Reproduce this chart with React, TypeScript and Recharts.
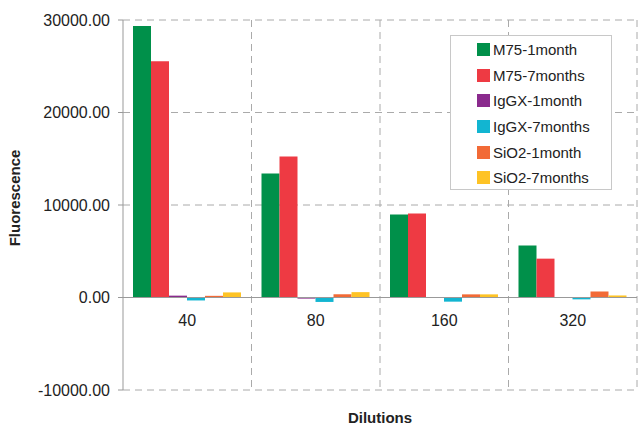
import React from 'react';
import { Bar, BarChart, CartesianGrid, Legend, ReferenceLine, XAxis, YAxis } from 'recharts';

const dilutions = ['40', '80', '160', '320'];
const m75OneMonth = [29350, 13400, 8980, 5620];
const m75SevenMonths = [25550, 15230, 9080, 4200];
const iggxOneMonth = [200, -120, 0, 0];
const iggxSevenMonths = [-320, -480, -450, -200];
const sio2OneMonth = [180, 350, 340, 650];
const sio2SevenMonths = [550, 580, 340, 220];
const yTicks = [-10000, 0, 10000, 20000, 30000];

const SERIES = [
  { key: 'm75_1', name: 'M75-1month', values: m75OneMonth, color: '#00904a' },
  { key: 'm75_7', name: 'M75-7months', values: m75SevenMonths, color: '#ee3a43' },
  { key: 'iggx_1', name: 'IgGX-1month', values: iggxOneMonth, color: '#8a2a8d' },
  { key: 'iggx_7', name: 'IgGX-7months', values: iggxSevenMonths, color: '#12b5d1' },
  { key: 'sio2_1', name: 'SiO2-1month', values: sio2OneMonth, color: '#f26a36' },
  { key: 'sio2_7', name: 'SiO2-7months', values: sio2SevenMonths, color: '#fec325' },
];

const data = dilutions.map((label, i) => {
  const row: Record<string, string | number> = { label };
  SERIES.forEach((s) => {
    row[s.key] = s.values[i];
  });
  return row;
});

const FONT = 'Liberation Sans, Arial, sans-serif';
const GRID = '#aaaaaa';

function CategoryTick(props: any) {
  const { x, y, payload } = props;
  // labels sit just under the zero line, not at the bottom of the plot
  return (
    <text x={x} y={y} dy={-72} textAnchor="middle" fontSize={16} fill="#222" fontFamily={FONT}>
      {payload.value}
    </text>
  );
}

function LegendBox() {
  return (
    <div
      style={{
        border: '1px solid #c8c8c8',
        background: '#fff',
        width: 162,
        height: 155,
        boxSizing: 'border-box',
        padding: '1px 0 0 26px',
        fontFamily: FONT,
        fontSize: 15,
        color: '#222',
      }}
    >
      {SERIES.map((s) => (
        <div key={s.key} style={{ display: 'flex', alignItems: 'center', height: 25.6 }}>
          <span style={{ width: 13, height: 13, background: s.color, marginRight: 3, display: 'inline-block' }} />
          <span>{s.name}</span>
        </div>
      ))}
    </div>
  );
}

export default function App() {
  return (
    <div style={{ position: 'absolute', left: 0, top: 0, background: '#fff' }}>
      <BarChart
        width={638}
        height={425}
        data={data}
        margin={{ top: 20, right: 1, left: 0, bottom: 0 }}
        barCategoryGap={10}
        barGap={0}
      >
        <CartesianGrid
          stroke={GRID}
          strokeDasharray="7 5"
          horizontalValues={[-10000, 10000, 20000, 30000]}
          verticalCoordinatesGenerator={({ offset }: any) =>
            dilutions.map((_, i) => offset.left + (offset.width * (i + 1)) / dilutions.length)
          }
        />
        <XAxis
          dataKey="label"
          height={35}
          axisLine={false}
          tickLine={false}
          tick={<CategoryTick />}
          label={{
            value: 'Dilutions',
            position: 'insideBottom',
            offset: 2,
            style: { fontSize: 15, fontWeight: 700, fill: '#222', fontFamily: FONT },
          }}
        />
        <YAxis
          width={123}
          domain={[-10000, 30000]}
          ticks={yTicks}
          interval={0}
          tickFormatter={(v: number) => v.toFixed(2)}
          tick={{ fontSize: 16, fill: '#222', fontFamily: FONT }}
          tickSize={5}
          tickMargin={8}
          stroke="#999"
          axisLine={{ stroke: '#999' }}
          tickLine={{ stroke: '#999' }}
          label={{
            value: 'Fluorescence',
            angle: -90,
            position: 'insideLeft',
            offset: 15,
            dy: -7,
            style: { fontSize: 15, fontWeight: 700, fill: '#222', fontFamily: FONT, textAnchor: 'middle' },
          }}
        />
        <ReferenceLine y={0} stroke="#999" />
        <Legend
          layout="vertical"
          align="center"
          verticalAlign="middle"
          wrapperStyle={{ top: 35, left: 450, width: 162, height: 155 }}
          content={<LegendBox />}
        />
        {SERIES.map((s) => (
          <Bar key={s.key} dataKey={s.key} name={s.name} fill={s.color} isAnimationActive={false} />
        ))}
      </BarChart>
    </div>
  );
}
